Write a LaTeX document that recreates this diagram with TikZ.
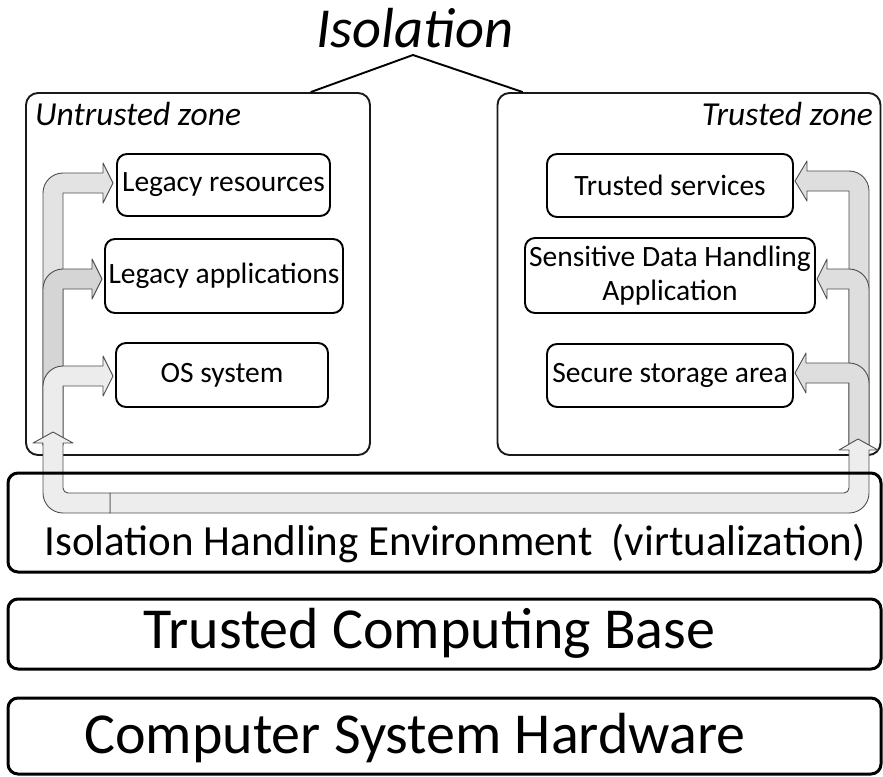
\documentclass[tikz,border=0pt]{standalone}
\usepackage{fontspec}
\setmainfont{Carlito}
\usetikzlibrary{calc}

\definecolor{edge}{HTML}{4D4D4D}
\definecolor{fillA}{HTML}{E3E3E3}
\definecolor{fillB}{HTML}{D5D5D5}
\definecolor{fillC}{HTML}{ECECEC}
\definecolor{fillR}{HTML}{DEDEDE}
\definecolor{fillU}{HTML}{EDEDED}

% bent arrow leaving the left trunk (x 43..63) towards the right
% #1 centre y of the shaft, #2 tip x, #3 head base x, #4 fill colour
\newcommand\leftbranch[4]{%
  \filldraw[bentarrow, fill=#4] (43,445) -- (43,{#1+10})
    arc[start angle=180, end angle=90, radius=20pt]
    -- (#3,{#1-10}) -- (#3,{#1-20}) -- (#2,#1) -- (#3,{#1+20})
    -- (#3,{#1+10}) -- (63,{#1+10}) -- (63,445) -- cycle;}
% bent arrow leaving the right trunk (x 849..869) towards the left
\newcommand\rightbranch[4]{%
  \filldraw[bentarrow, fill=#4] (869,445) -- (869,{#1+10})
    arc[start angle=0, end angle=90, radius=20pt]
    -- (#3,{#1-10}) -- (#3,{#1-20}) -- (#2,#1) -- (#3,{#1+20})
    -- (#3,{#1+10}) -- (849,{#1+10}) -- (849,445) -- cycle;}

\tikzset{
  zone/.style={draw=black!90, line width=1.9pt, rounded corners=12pt, inner sep=0pt},
  innerbox/.style={draw=black, line width=1.9pt, rounded corners=10pt, inner sep=2pt,
    font=\fontsize{29.5}{34}\selectfont, align=center},
  layer/.style={draw=black, line width=3pt, rounded corners=10pt, inner sep=0pt},
  layertext/.style={anchor=base, inner sep=0pt},
  zonelabel/.style={font=\fontsize{33.5}{38}\selectfont\itshape, inner sep=0pt, anchor=base},
  bentarrow/.style={draw=edge, line width=0.9pt, line join=round},
  isoline/.style={draw=black, line width=1.9pt},
}

\begin{document}
\begin{tikzpicture}[x=1pt, y=-1pt]
\useasboundingbox (0,0) rectangle (883,776);

% title and the two branches down to the zones
\node[font=\fontsize{56.5}{61}\selectfont\itshape, anchor=base, inner sep=0pt] (isol) at (415,48) {Isolation};
\coordinate (peak) at (413,55);

% zones
\node[zone, minimum width=344pt, minimum height=362pt] (lzone) at (198,274) {};
\node[zone, minimum width=383pt, minimum height=362pt] (rzone) at (689,274) {};
\node[zonelabel, anchor=base west] (lzl) at (35,125) {Untrusted zone};
\node[zonelabel, anchor=base east] (rzl) at (873,125) {Trusted zone};

\draw[isoline] ($(lzone.north west)!0.826!(lzone.north east)$) -- (peak)
  -- ($(rzone.north west)!0.068!(rzone.north east)$);

% untrusted zone contents
\node[innerbox, minimum width=213pt, minimum height=62pt] (lres) at (223.5,185) {Legacy resources};
\node[innerbox, minimum width=238pt, minimum height=74pt] (lapp) at (224,276) {Legacy applications};
\node[innerbox, minimum width=212pt, minimum height=64pt] (os) at (222,375) {OS system};

% trusted zone contents
\node[innerbox, minimum width=246pt, minimum height=63pt] (tsrv) at (670,185.5) {Trusted services};
\node[innerbox, minimum width=290pt, minimum height=75pt] (sdh) at (670,275.5) {Sensitive Data Handling\\Application};
\node[innerbox, minimum width=246pt, minimum height=63pt] (sst) at (670,375.5) {Secure storage area};

% flows inside the untrusted zone
\leftbranch{183}{113}{103}{fillA}
\leftbranch{279}{102}{92}{fillB}
\leftbranch{376}{113}{103}{fillC}

% flows inside the trusted zone
\rightbranch{181}{795}{807}{fillR}
\rightbranch{279}{817}{827}{fillR}
\rightbranch{373}{795}{806}{fillR}

% U-shaped flow through the isolation layer
\filldraw[bentarrow, fill=fillU] (110,493) -- (844,493)
  arc[start angle=270, end angle=360, radius=5pt]
  -- (849,450) -- (839,450) -- (858,439) -- (878,450) -- (869,450)
  -- (869,493) arc[start angle=0, end angle=-90, radius=20pt]
  -- (110,513) -- cycle;
\filldraw[bentarrow, fill=fillU] (53,432) -- (73,443) -- (63,443) -- (63,488)
  arc[start angle=180, end angle=270, radius=5pt]
  -- (110,493) -- (110,513) -- (63,513)
  arc[start angle=270, end angle=180, radius=20pt]
  -- (43,443) -- (33,443) -- cycle;

% layers
\node[layer, minimum width=873pt, minimum height=99pt] (ihe) at (444.5,522.5) {};
\node[layertext, font=\fontsize{43}{48}\selectfont] (ihet) at (455,555) {Isolation Handling Environment\ \ (virtualization)};
\node[layer, minimum width=873pt, minimum height=70pt] (tcb) at (444.5,634) {};
\node[layertext, font=\fontsize{58}{63}\selectfont] (tcbt) at (429.5,648) {Trusted Computing Base};
\node[layer, minimum width=873pt, minimum height=76pt] (hw) at (444.5,736) {};
\node[layertext, font=\fontsize{58}{63}\selectfont] (hwt) at (415,753) {Computer System Hardware};
\end{tikzpicture}
\end{document}
